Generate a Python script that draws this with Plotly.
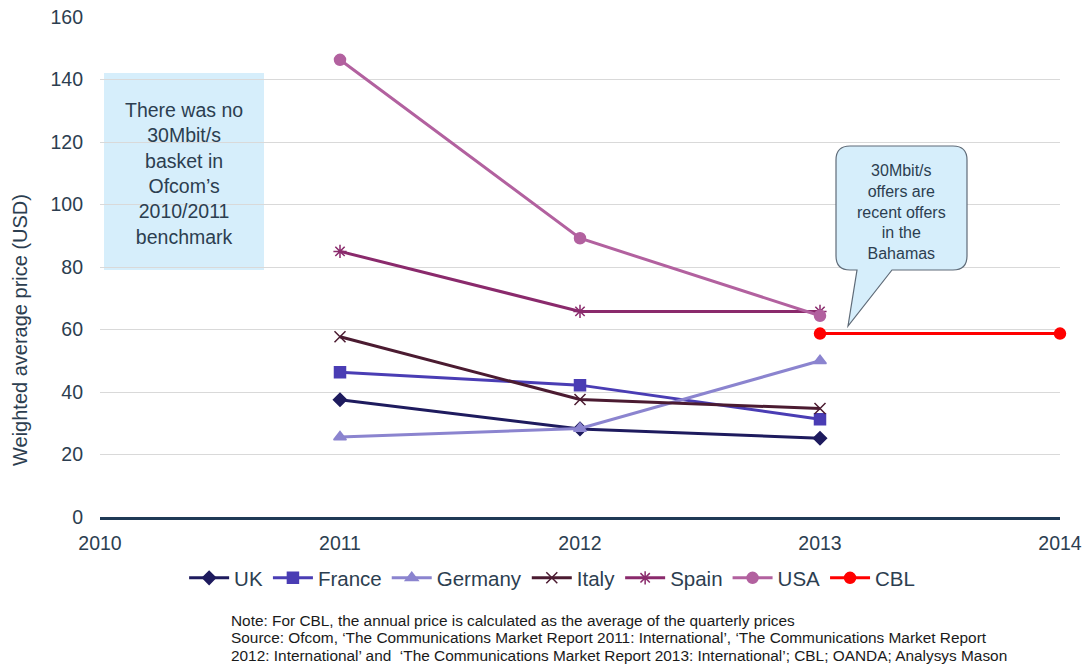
import plotly.graph_objects as go

years = [2011, 2012, 2013]
uk = [37.5, 28.2, 25.2]
france = [46.3, 42.2, 31.3]
germany = [25.6, 28.3, 50.0]
italy = [57.7, 37.6, 34.7]
spain = [85.0, 65.8, 65.8]
usa = [146.3, 89.2, 64.4]
cbl_years = [2013, 2014]
cbl = [58.7, 58.7]

series = [
    ("UK", years, uk, "#1E1B5E", "diamond", 10),
    ("France", years, france, "#4A3DB4", "square", 11),
    ("Germany", years, germany, "#8B84CF", "triangle-up", 11),
    ("Italy", years, italy, "#4B1B31", "x-thin-open", 11),
    ("Spain", years, spain, "#8A2A6C", "asterisk-open", 11),
    ("USA", years, usa, "#B2619F", "circle", 11),
    ("CBL", cbl_years, cbl, "#FF0000", "circle", 11),
]

W, H = 1089, 668
L, R, T, B = 100, 29, 17, 151
PW, PH = W - L - R, H - T - B

def px(x):
    return (x - L) / PW

def py(y):
    return (T + PH - y) / PH

fig = go.Figure()
for name, xs, ys, col, sym, sz in series:
    fig.add_trace(go.Scatter(
        x=xs, y=ys, name=name, mode="lines+markers", cliponaxis=False,
        line=dict(color=col, width=3),
        marker=dict(symbol=sym, size=sz, color=col,
                    line=dict(color=col, width=1.5)),
    ))

font_color = "#2C3E50"

# Left info box
fig.add_shape(type="rect", xref="paper", yref="paper",
              x0=px(104), x1=px(264), y0=py(270), y1=py(73),
              fillcolor="#D6EEFB", line=dict(width=0), layer="below")
fig.add_annotation(xref="paper", yref="paper", x=px(184), y=py(174),
                   xanchor="center", yanchor="middle",
                   text="There was no<br>30Mbit/s<br>basket in<br>Ofcom\u2019s<br>2010/2011<br>benchmark",
                   showarrow=False, align="center",
                   font=dict(size=19.5, color=font_color))

# Callout bubble
x0, x1, y0, y1, r = 836, 967, 146, 270, 14
tail = [(892, 270), (848, 326), (857, 270)]
path = f"M {px(x0 + r)},{py(y0)} L {px(x1 - r)},{py(y0)} Q {px(x1)},{py(y0)} {px(x1)},{py(y0 + r)} "
path += f"L {px(x1)},{py(y1 - r)} Q {px(x1)},{py(y1)} {px(x1 - r)},{py(y1)} "
for tx, ty in tail:
    path += f"L {px(tx)},{py(ty)} "
path += f"L {px(x0 + r)},{py(y1)} Q {px(x0)},{py(y1)} {px(x0)},{py(y1 - r)} "
path += f"L {px(x0)},{py(y0 + r)} Q {px(x0)},{py(y0)} {px(x0 + r)},{py(y0)} Z"
fig.add_shape(type="path", xref="paper", yref="paper", path=path,
              fillcolor="#D6EEFB", line=dict(color="#5F6B78", width=1.2))
fig.add_annotation(xref="paper", yref="paper", x=px(901), y=py(212),
                   xanchor="center", yanchor="middle",
                   text="30Mbit/s<br>offers are<br>recent offers<br>in the<br>Bahamas",
                   showarrow=False, align="center",
                   font=dict(size=16, color=font_color))

# Y-axis title (placed as in the reference, below the axis centre)
fig.add_annotation(xref="paper", yref="paper", x=px(20), y=py(330),
                   xanchor="center", yanchor="middle", textangle=-90,
                   text="Weighted average price (USD)", showarrow=False,
                   font=dict(size=20, color=font_color))

# Notes
note_lines = [
    "Note: For CBL, the annual price is calculated as the average of the quarterly prices",
    "Source: Ofcom, \u2018The Communications Market Report 2011: International\u2019, \u2018The Communications Market Report",
    "2012: International\u2019 and  \u2018The Communications Market Report 2013: International\u2019; CBL; OANDA; Analysys Mason",
]
for i, line in enumerate(note_lines):
    fig.add_annotation(xref="paper", yref="paper", x=px(229), y=py(620 + 17.5 * i),
                       xanchor="left", yanchor="middle", align="left",
                       text=line, showarrow=False,
                       font=dict(size=15.4, color="#1A1A1A"))

fig.update_layout(
    width=W, height=H,
    margin=dict(l=L, r=R, t=T, b=B, autoexpand=False),
    paper_bgcolor="white", plot_bgcolor="white",
    font=dict(family="Liberation Sans, Arial, sans-serif", color=font_color, size=19),
    showlegend=True,
    legend=dict(orientation="h", xref="container", yref="container",
                x=0.507, xanchor="center", y=1 - 578 / H, yanchor="middle",
                font=dict(size=20.5, color=font_color), itemwidth=40,
                bgcolor="rgba(0,0,0,0)"),
    xaxis=dict(range=[2010, 2014], dtick=1, tick0=2010, showgrid=False,
               zeroline=False, showline=True, linecolor="#1F3A56", linewidth=3,
               ticks="", automargin=False, ticklabelstandoff=7,
               tickfont=dict(size=19.5, color=font_color)),
    yaxis=dict(range=[0, 160], dtick=20, showgrid=True, gridcolor="#D9D9D9",
               gridwidth=1, zeroline=False, showline=False, automargin=False,
               ticks="", ticklabelstandoff=16,
               tickfont=dict(size=19.5, color=font_color)),
)

fig.write_html("out.html")
